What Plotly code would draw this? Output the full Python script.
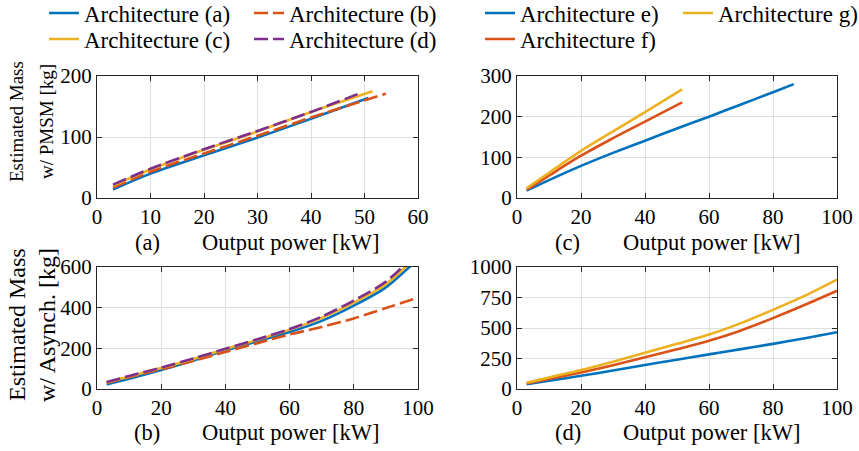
import plotly.graph_objects as go

# ---------------- data ----------------
# Panel (a): PMSM, architectures (a)-(d)
xa_a = [3, 10, 20, 30, 40, 50.7]
ya_a = [14, 40, 70, 99, 130, 164]
xa_b = [3, 10, 20, 30, 40, 54]
ya_b = [17, 43, 73, 102, 132, 171]
xa_c = [3, 10, 20, 30, 40, 51.5]
ya_c = [20, 47, 79, 109, 141, 175]
xa_d = [3, 10, 20, 30, 40, 49.5]
ya_d = [22, 48, 80, 110, 141, 173]

# Panel (b): Asynch., architectures (a)-(d)
xb = [3, 10, 20, 30, 40, 50, 60, 70, 80, 90, 100]
yb_a = [22, 50, 93, 140, 190, 235, 280, 335, 410, 500, 640]
yb_b = [30, 58, 97, 138, 182, 225, 268, 305, 347, 398, 449]
yb_c = [32, 62, 103, 148, 196, 242, 292, 350, 425, 515, 660]
yb_d = [34, 64, 105, 150, 198, 245, 295, 356, 435, 528, 675]

# Panel (c): PMSM, architectures e)-g)
xc_e = [3, 10, 20, 30, 40, 50, 60, 70, 80, 86.5]
yc_e = [18, 44, 79, 111, 141, 171, 200, 230, 260, 280]
xc_fg = [3, 10, 20, 30, 40, 51.6]
yc_f = [20, 55, 104, 147, 188, 235]
yc_g = [24, 62, 116, 164, 211, 267]

# Panel (d): Asynch., architectures e)-g)
xd = [3, 10, 20, 30, 40, 50, 60, 70, 80, 90, 100]
yd_e = [40, 68, 108, 152, 197, 240, 284, 327, 370, 416, 465]
yd_f = [45, 82, 135, 195, 260, 325, 395, 480, 581, 690, 805]
yd_g = [52, 95, 155, 224, 297, 370, 446, 540, 649, 765, 897]

names_left = ["Architecture (a)", "Architecture (b)", "Architecture (c)", "Architecture (d)"]
names_right = ["Architecture e)", "Architecture f)", "Architecture g)"]

BLUE, ORANGE, YELLOW, PURPLE = "#0072BD", "#D95319", "#EDB120", "#7E2F8E"
FONT = "Liberation Serif, serif"
LW = 2.6
DASH = "14px,5px"

W, H = 859, 451
def px_x(p):
    return p / W
def px_y(p):
    return 1 - p / H

fig = go.Figure()

def add(x, y, name, color, dash, xa, ya, legend, show):
    fig.add_trace(go.Scatter(
        x=x, y=y, name=name, mode="lines",
        line=dict(color=color, width=LW, dash=dash, shape="spline", smoothing=0.8),
        xaxis=xa, yaxis=ya, legend=legend, showlegend=show,
    ))

add(xa_a, ya_a, names_left[0], BLUE, "solid", "x", "y", "legend", True)
add(xa_b, ya_b, names_left[1], ORANGE, DASH, "x", "y", "legend", True)
add(xa_c, ya_c, names_left[2], YELLOW, "solid", "x", "y", "legend2", True)
add(xa_d, ya_d, names_left[3], PURPLE, DASH, "x", "y", "legend2", True)

add(xb, yb_a, names_left[0], BLUE, "solid", "x2", "y2", "legend", False)
add(xb, yb_b, names_left[1], ORANGE, DASH, "x2", "y2", "legend", False)
add(xb, yb_c, names_left[2], YELLOW, "solid", "x2", "y2", "legend2", False)
add(xb, yb_d, names_left[3], PURPLE, DASH, "x2", "y2", "legend2", False)

add(xc_e, yc_e, names_right[0], BLUE, "solid", "x3", "y3", "legend3", True)
add(xc_fg, yc_f, names_right[1], ORANGE, "solid", "x3", "y3", "legend4", True)
add(xc_fg, yc_g, names_right[2], YELLOW, "solid", "x3", "y3", "legend3", True)

add(xd, yd_e, names_right[0], BLUE, "solid", "x4", "y4", "legend3", False)
add(xd, yd_f, names_right[1], ORANGE, "solid", "x4", "y4", "legend4", False)
add(xd, yd_g, names_right[2], YELLOW, "solid", "x4", "y4", "legend3", False)

AX = dict(showline=True, linecolor="#262626", linewidth=1, mirror="ticks",
          ticks="inside", ticklen=5, tickcolor="#262626",
          showgrid=True, gridcolor="#dfdfdf", gridwidth=1, zeroline=False,
          tickfont=dict(family=FONT, size=21, color="#000"))

left_dom = [px_x(97), px_x(418)]
right_dom = [px_x(517), px_x(837)]
top_dom = [px_y(198), px_y(76)]
bot_dom = [px_y(389), px_y(267)]

fig.update_layout(
    width=W, height=H, margin=dict(l=0, r=0, t=0, b=0, autoexpand=False),
    plot_bgcolor="white", paper_bgcolor="white",
    font=dict(family=FONT, size=21, color="#000"),
    xaxis=dict(AX, domain=left_dom, range=[0, 60], dtick=10, anchor="y"),
    yaxis=dict(AX, domain=top_dom, range=[0, 200], dtick=100, anchor="x"),
    xaxis2=dict(AX, domain=left_dom, range=[0, 100], dtick=20, anchor="y2"),
    yaxis2=dict(AX, domain=bot_dom, range=[0, 600], dtick=200, anchor="x2"),
    xaxis3=dict(AX, domain=right_dom, range=[0, 100], dtick=20, anchor="y3"),
    yaxis3=dict(AX, domain=top_dom, range=[0, 300], dtick=100, anchor="x3"),
    xaxis4=dict(AX, domain=right_dom, range=[0, 100], dtick=20, anchor="y4"),
    yaxis4=dict(AX, domain=bot_dom, range=[0, 1000], tickvals=[0, 250, 500, 750, 1000], anchor="x4"),
)

LEG = dict(orientation="h", xref="paper", yref="paper", xanchor="left", yanchor="middle",
           bgcolor="rgba(0,0,0,0)", borderwidth=0, itemwidth=30,
           entrywidthmode="pixels", font=dict(family=FONT, size=23, color="#000"),
           tracegroupgap=0, itemclick=False)
fig.update_layout(
    legend=dict(LEG, x=px_x(44), y=px_y(13), entrywidth=160),
    legend2=dict(LEG, x=px_x(44), y=px_y(39), entrywidth=160),
    legend3=dict(LEG, x=px_x(480), y=px_y(13), entrywidth=153),
    legend4=dict(LEG, x=px_x(480), y=px_y(39), entrywidth=153),
)

anns = []
def xt(cx, cy, text, size=22.5):
    anns.append(dict(x=px_x(cx), y=px_y(cy), xref="paper", yref="paper", text=text,
                     showarrow=False, xanchor="center", yanchor="middle",
                     font=dict(family=FONT, size=size, color="#000")))
xt(147, 242, "(a)"); xt(290, 242, "Output power [kW]")
xt(567, 242, "(c)"); xt(711, 242, "Output power [kW]")
xt(147, 432, "(b)"); xt(290, 432, "Output power [kW]")
xt(568, 432, "(d)"); xt(711, 432, "Output power [kW]")

def yt(cx, cy, text, size):
    anns.append(dict(x=px_x(cx), y=px_y(cy), xref="paper", yref="paper", text=text,
                     showarrow=False, xanchor="center", yanchor="middle", textangle=-90,
                     font=dict(family=FONT, size=size, color="#000")))
yt(16, 122, "Estimated Mass", 19)
yt(46, 122, "w/ PMSM [kg]", 19)
yt(17, 325, "Estimated Mass", 24)
yt(47, 325, "w/ Asynch. [kg]", 24)
fig.update_layout(annotations=anns)

fig.write_html("out.html")
